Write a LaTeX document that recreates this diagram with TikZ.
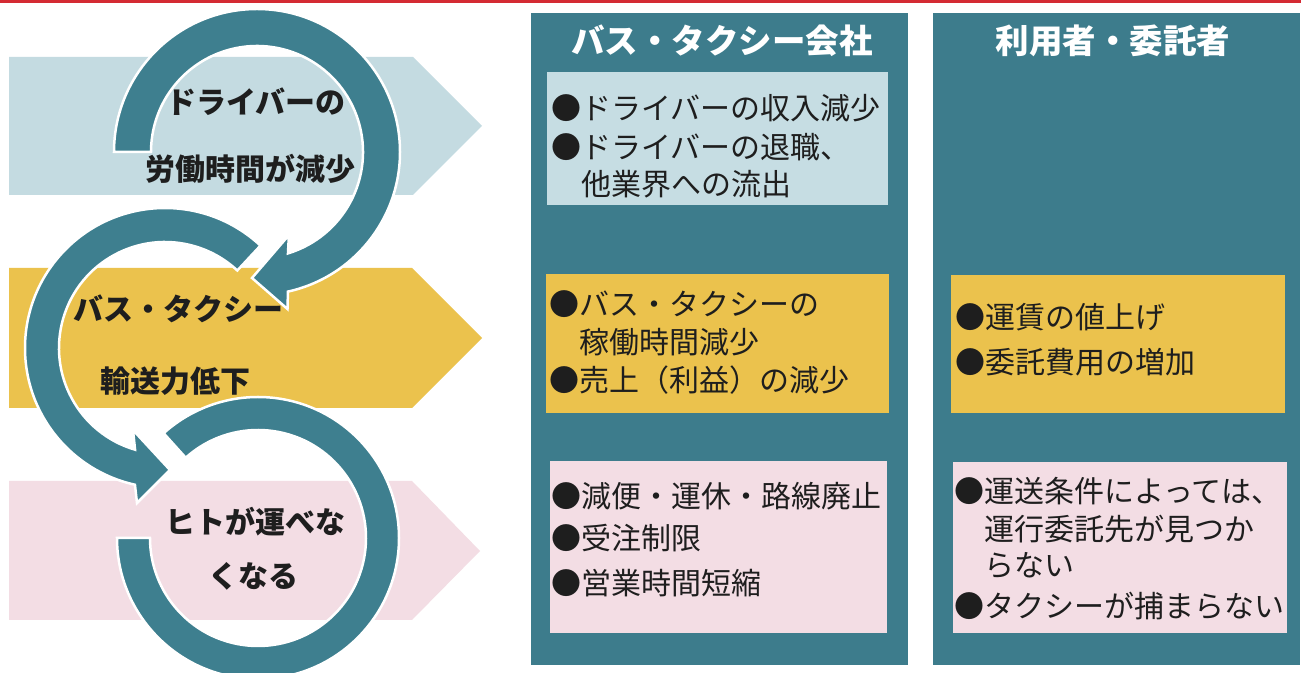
\documentclass[tikz,border=0pt]{standalone}
\usepackage{fontspec}
\newfontfamily\jp{Noto Sans CJK JP}
\definecolor{redline}{HTML}{D42A33}
\definecolor{pblue}{HTML}{C4DBE1}
\definecolor{pyellow}{HTML}{EBC24D}
\definecolor{ppink}{HTML}{F3DDE4}
\definecolor{ringcol}{HTML}{3E7F8F}
\definecolor{colcol}{HTML}{3D7C8C}
\definecolor{bluebox}{HTML}{C6DDE3}
\definecolor{txt}{HTML}{1E1E1E}
\begin{document}
\begin{tikzpicture}[x=1pt,y=1pt,
  body/.style={font=\jp\fontsize{30}{35}\selectfont, text=txt, inner sep=0pt, anchor=base west},
  lbl/.style={font=\jp\bfseries\fontsize{30}{35}\selectfont, text=txt, inner sep=0pt, anchor=base},
  hdr/.style={font=\jp\bfseries\fontsize{33.5}{38}\selectfont, text=white, inner sep=0pt, anchor=base},
  ring/.style={fill=ringcol, draw=white, line width=2.5pt, line join=miter}]
\useasboundingbox (0,0) rectangle (1301,672);
\clip (0,0) rectangle (1301,672);
\fill[white] (0,0) rectangle (1301,672);
\fill[redline] (0,669) rectangle (1301,672);
% left pentagon arrows
\fill[pblue] (9,477) -- (413,477) -- (482,546) -- (413,615) -- (9,615) -- cycle;
\fill[pyellow] (9,264) -- (412,264) -- (482,334) -- (412,404) -- (9,404) -- cycle;
\fill[ppink] (9,52) -- (412,52) -- (480,121) -- (412,191) -- (9,191) -- cycle;
% columns
\fill[colcol] (531,7) rectangle (908,659);
\fill[colcol] (933,7) rectangle (1300,659);
\fill[bluebox] (547,467) rectangle (888,600);
\fill[pyellow] (546,259) rectangle (889,398);
\fill[ppink] (550,39) rectangle (887,211);
\fill[pyellow] (951,259) rectangle (1285,397);
\fill[ppink] (953,39) rectangle (1287,210);
% ring 3 (bottom)
\begin{scope}[shift={(258,134)}]
\path[ring] (180:141pt) arc[start angle=180, end angle=492, radius=141pt]
  -- (492:108pt) arc[start angle=492, end angle=180, radius=108pt] -- cycle;
\end{scope}
% ring 2 (middle)
\begin{scope}[shift={(165,324)}]
\path[ring] (47:140pt) arc[start angle=47, end angle=257.6, radius=140pt]
  -- (-28,-155) -- (5,-122) -- (-32,-82) -- (253.6:106pt)
  arc[start angle=253.6, end angle=47, radius=106pt] -- cycle;
\end{scope}
% ring 1 (top)
\begin{scope}[shift={(257,520)}]
\path[ring] (180:143pt) arc[start angle=180, end angle=-77.5, radius=143pt]
  -- (30.5,-157) -- (-5,-126) -- (31.9,-83.1) -- (-73:106pt)
  arc[start angle=-73, end angle=180, radius=106pt] -- cycle;
\end{scope}
% left labels
\node[lbl] (l1) at (256,558.3) {ドライバーの};
\node[lbl] (l2) at (250,491.3) {労働時間が減少};
\node[lbl] (l3) at (178,351.3) {バス・タクシー};
\node[lbl] (l4) at (175,279.3) {輸送力低下};
\node[lbl] (l5) at (255,138.3) {ヒトが運べな};
\node[lbl] (l6) at (253,84.3) {くなる};
% headers
\node[hdr] (h1) at (722,618) {バス・タクシー会社};
\node[hdr] (h2) at (1113,618) {利用者・委託者};
% column 1 texts
\node[body] (a1) at (551,552.2) {●ドライバーの収入減少};
\node[body] (a2) at (551,513.2) {●ドライバーの退職、};
\node[body] (a3) at (551,476.2) {\phantom{●}他業界への流出};
\node[body] (b1) at (549,356.2) {●バス・タクシーの};
\node[body] (b2) at (549,318.2) {\phantom{●}稼働時間減少};
\node[body] (b3) at (549,280.2) {●売上（利益）の減少};
\node[body] (c1) at (551,164.2) {●減便・運休・路線廃止};
\node[body] (c2) at (551,122.2) {●受注制限};
\node[body] (c3) at (551,77.2) {●営業時間短縮};
% column 2 texts
\node[body] (d1) at (955,343.2) {●運賃の値上げ};
\node[body] (d2) at (955,298.2) {●委託費用の増加};
\node[body] (e1) at (954,169.2) {●運送条件によっては、};
\node[body] (e2) at (954,131.2) {\phantom{●}運行委託先が見つか};
\node[body] (e3) at (954,95.2) {\phantom{●}らない};
\node[body] (e4) at (954,54.2) {●タクシーが捕まらない};
\end{tikzpicture}
\end{document}
